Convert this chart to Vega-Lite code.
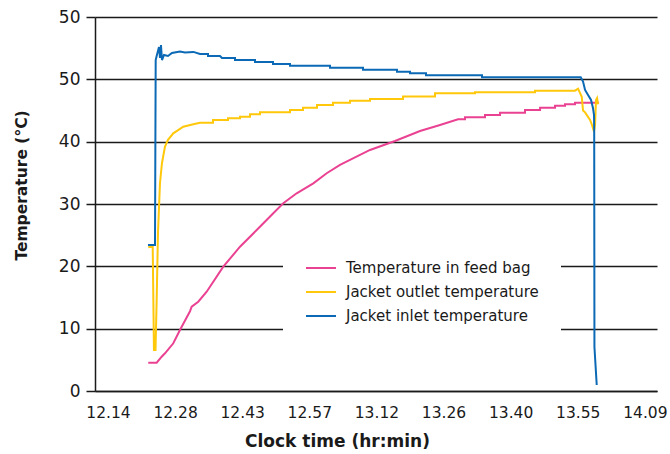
{
  "$schema": "https://vega.github.io/schema/vega-lite/v6.json",
  "width": 562,
  "height": 374,
  "autosize": "none",
  "padding": {"left": 95, "top": 17, "right": 13, "bottom": 63},
  "background": "white",
  "config": {
    "view": {"stroke": null},
    "font": "DejaVu Sans"
  },
  "data": {
    "values": [
      {"series":"Temperature in feed bag","minute":22.63,"temp":4.54},
      {"series":"Temperature in feed bag","minute":24.43,"temp":4.54},
      {"series":"Temperature in feed bag","minute":25.5,"temp":5.5},
      {"series":"Temperature in feed bag","minute":26.21,"temp":6.05},
      {"series":"Temperature in feed bag","minute":27.99,"temp":7.65},
      {"series":"Temperature in feed bag","minute":29.42,"temp":9.79},
      {"series":"Temperature in feed bag","minute":31.57,"temp":12.8},
      {"series":"Temperature in feed bag","minute":31.93,"temp":13.52},
      {"series":"Temperature in feed bag","minute":33.34,"temp":14.33},
      {"series":"Temperature in feed bag","minute":35.14,"temp":15.93},
      {"series":"Temperature in feed bag","minute":38.7,"temp":19.94},
      {"series":"Temperature in feed bag","minute":42.28,"temp":23.15},
      {"series":"Temperature in feed bag","minute":45.86,"temp":25.83},
      {"series":"Temperature in feed bag","minute":49.41,"temp":28.51},
      {"series":"Temperature in feed bag","minute":51.55,"temp":30.11},
      {"series":"Temperature in feed bag","minute":54.42,"temp":31.72},
      {"series":"Temperature in feed bag","minute":57.98,"temp":33.32},
      {"series":"Temperature in feed bag","minute":60.85,"temp":34.93},
      {"series":"Temperature in feed bag","minute":63.7,"temp":36.26},
      {"series":"Temperature in feed bag","minute":70.13,"temp":38.67},
      {"series":"Temperature in feed bag","minute":75.48,"temp":40.11},
      {"series":"Temperature in feed bag","minute":80.84,"temp":41.71},
      {"series":"Temperature in feed bag","minute":85.12,"temp":42.68},
      {"series":"Temperature in feed bag","minute":88.98,"temp":43.59},
      {"series":"Temperature in feed bag","minute":90.48,"temp":43.59},
      {"series":"Temperature in feed bag","minute":90.48,"temp":43.91},
      {"series":"Temperature in feed bag","minute":94.76,"temp":43.91},
      {"series":"Temperature in feed bag","minute":94.76,"temp":44.28},
      {"series":"Temperature in feed bag","minute":97.98,"temp":44.28},
      {"series":"Temperature in feed bag","minute":97.98,"temp":44.65},
      {"series":"Temperature in feed bag","minute":103.33,"temp":44.65},
      {"series":"Temperature in feed bag","minute":103.33,"temp":45.08},
      {"series":"Temperature in feed bag","minute":106.55,"temp":45.08},
      {"series":"Temperature in feed bag","minute":106.55,"temp":45.45},
      {"series":"Temperature in feed bag","minute":109.76,"temp":45.45},
      {"series":"Temperature in feed bag","minute":109.76,"temp":45.77},
      {"series":"Temperature in feed bag","minute":111.9,"temp":45.77},
      {"series":"Temperature in feed bag","minute":111.9,"temp":46.0},
      {"series":"Temperature in feed bag","minute":114.04,"temp":46.0},
      {"series":"Temperature in feed bag","minute":114.04,"temp":46.25},
      {"series":"Temperature in feed bag","minute":119.19,"temp":46.25},

      {"series":"Jacket outlet temperature","minute":22.63,"temp":23.05},
      {"series":"Jacket outlet temperature","minute":23.58,"temp":23.15},
      {"series":"Jacket outlet temperature","minute":23.85,"temp":6.58},
      {"series":"Jacket outlet temperature","minute":24.18,"temp":6.58},
      {"series":"Jacket outlet temperature","minute":24.43,"temp":14.6},
      {"series":"Jacket outlet temperature","minute":24.71,"temp":25.35},
      {"series":"Jacket outlet temperature","minute":25.14,"temp":33.37},
      {"series":"Jacket outlet temperature","minute":25.57,"temp":36.58},
      {"series":"Jacket outlet temperature","minute":26.21,"temp":39.2},
      {"series":"Jacket outlet temperature","minute":26.85,"temp":40.3},
      {"series":"Jacket outlet temperature","minute":27.99,"temp":41.34},
      {"series":"Jacket outlet temperature","minute":30.13,"temp":42.4},
      {"series":"Jacket outlet temperature","minute":32.27,"temp":42.79},
      {"series":"Jacket outlet temperature","minute":33.71,"temp":43.05},
      {"series":"Jacket outlet temperature","minute":36.49,"temp":43.05},
      {"series":"Jacket outlet temperature","minute":36.49,"temp":43.48},
      {"series":"Jacket outlet temperature","minute":39.71,"temp":43.48},
      {"series":"Jacket outlet temperature","minute":39.71,"temp":43.75},
      {"series":"Jacket outlet temperature","minute":42.28,"temp":43.75},
      {"series":"Jacket outlet temperature","minute":42.28,"temp":44.01},
      {"series":"Jacket outlet temperature","minute":44.42,"temp":44.01},
      {"series":"Jacket outlet temperature","minute":44.42,"temp":44.39},
      {"series":"Jacket outlet temperature","minute":46.56,"temp":44.39},
      {"series":"Jacket outlet temperature","minute":46.56,"temp":44.71},
      {"series":"Jacket outlet temperature","minute":52.99,"temp":44.71},
      {"series":"Jacket outlet temperature","minute":52.99,"temp":45.08},
      {"series":"Jacket outlet temperature","minute":55.77,"temp":45.08},
      {"series":"Jacket outlet temperature","minute":55.77,"temp":45.45},
      {"series":"Jacket outlet temperature","minute":58.77,"temp":45.45},
      {"series":"Jacket outlet temperature","minute":58.77,"temp":45.89},
      {"series":"Jacket outlet temperature","minute":62.2,"temp":45.89},
      {"series":"Jacket outlet temperature","minute":62.2,"temp":46.25},
      {"series":"Jacket outlet temperature","minute":65.84,"temp":46.25},
      {"series":"Jacket outlet temperature","minute":65.84,"temp":46.57},
      {"series":"Jacket outlet temperature","minute":70.13,"temp":46.57},
      {"series":"Jacket outlet temperature","minute":70.13,"temp":46.85},
      {"series":"Jacket outlet temperature","minute":77.2,"temp":46.85},
      {"series":"Jacket outlet temperature","minute":77.2,"temp":47.25},
      {"series":"Jacket outlet temperature","minute":84.05,"temp":47.25},
      {"series":"Jacket outlet temperature","minute":84.05,"temp":47.76},
      {"series":"Jacket outlet temperature","minute":92.62,"temp":47.76},
      {"series":"Jacket outlet temperature","minute":92.62,"temp":47.92},
      {"series":"Jacket outlet temperature","minute":105.47,"temp":47.92},
      {"series":"Jacket outlet temperature","minute":105.47,"temp":48.18},
      {"series":"Jacket outlet temperature","minute":114.04,"temp":48.18},
      {"series":"Jacket outlet temperature","minute":114.69,"temp":48.5},
      {"series":"Jacket outlet temperature","minute":115.48,"temp":47.2},
      {"series":"Jacket outlet temperature","minute":115.76,"temp":45.0},
      {"series":"Jacket outlet temperature","minute":116.19,"temp":44.7},
      {"series":"Jacket outlet temperature","minute":117.26,"temp":43.5},
      {"series":"Jacket outlet temperature","minute":117.68,"temp":42.68},
      {"series":"Jacket outlet temperature","minute":118.11,"temp":41.6},
      {"series":"Jacket outlet temperature","minute":118.33,"temp":42.7},
      {"series":"Jacket outlet temperature","minute":118.54,"temp":46.7},
      {"series":"Jacket outlet temperature","minute":118.76,"temp":47.0},
      {"series":"Jacket outlet temperature","minute":118.97,"temp":46.0},

      {"series":"Jacket inlet temperature","minute":22.57,"temp":23.42},
      {"series":"Jacket inlet temperature","minute":24.07,"temp":23.42},
      {"series":"Jacket inlet temperature","minute":24.22,"temp":53.1},
      {"series":"Jacket inlet temperature","minute":24.48,"temp":53.91},
      {"series":"Jacket inlet temperature","minute":24.93,"temp":55.19},
      {"series":"Jacket inlet temperature","minute":25.14,"temp":53.42},
      {"series":"Jacket inlet temperature","minute":25.35,"temp":55.51},
      {"series":"Jacket inlet temperature","minute":25.57,"temp":53.1},
      {"series":"Jacket inlet temperature","minute":26.0,"temp":53.91},
      {"series":"Jacket inlet temperature","minute":26.85,"temp":53.75},
      {"series":"Jacket inlet temperature","minute":27.71,"temp":54.23},
      {"series":"Jacket inlet temperature","minute":29.42,"temp":54.47},
      {"series":"Jacket inlet temperature","minute":30.5,"temp":54.31},
      {"series":"Jacket inlet temperature","minute":32.3,"temp":54.4},
      {"series":"Jacket inlet temperature","minute":33.71,"temp":54.07},
      {"series":"Jacket inlet temperature","minute":35.42,"temp":54.07},
      {"series":"Jacket inlet temperature","minute":35.42,"temp":53.75},
      {"series":"Jacket inlet temperature","minute":37.99,"temp":53.75},
      {"series":"Jacket inlet temperature","minute":38.42,"temp":53.42},
      {"series":"Jacket inlet temperature","minute":41.21,"temp":53.42},
      {"series":"Jacket inlet temperature","minute":41.21,"temp":53.1},
      {"series":"Jacket inlet temperature","minute":45.49,"temp":53.1},
      {"series":"Jacket inlet temperature","minute":45.49,"temp":52.78},
      {"series":"Jacket inlet temperature","minute":49.35,"temp":52.78},
      {"series":"Jacket inlet temperature","minute":49.35,"temp":52.46},
      {"series":"Jacket inlet temperature","minute":52.99,"temp":52.46},
      {"series":"Jacket inlet temperature","minute":52.99,"temp":52.19},
      {"series":"Jacket inlet temperature","minute":61.56,"temp":52.19},
      {"series":"Jacket inlet temperature","minute":61.56,"temp":51.87},
      {"series":"Jacket inlet temperature","minute":68.63,"temp":51.87},
      {"series":"Jacket inlet temperature","minute":68.63,"temp":51.55},
      {"series":"Jacket inlet temperature","minute":75.91,"temp":51.55},
      {"series":"Jacket inlet temperature","minute":75.91,"temp":51.23},
      {"series":"Jacket inlet temperature","minute":78.7,"temp":51.23},
      {"series":"Jacket inlet temperature","minute":78.7,"temp":50.97},
      {"series":"Jacket inlet temperature","minute":82.12,"temp":50.97},
      {"series":"Jacket inlet temperature","minute":82.12,"temp":50.65},
      {"series":"Jacket inlet temperature","minute":94.12,"temp":50.65},
      {"series":"Jacket inlet temperature","minute":94.12,"temp":50.33},
      {"series":"Jacket inlet temperature","minute":115.26,"temp":50.33},
      {"series":"Jacket inlet temperature","minute":115.76,"temp":49.65},
      {"series":"Jacket inlet temperature","minute":116.19,"temp":48.29},
      {"series":"Jacket inlet temperature","minute":116.83,"temp":47.49},
      {"series":"Jacket inlet temperature","minute":117.47,"temp":46.7},
      {"series":"Jacket inlet temperature","minute":117.9,"temp":45.36},
      {"series":"Jacket inlet temperature","minute":118.11,"temp":44.28},
      {"series":"Jacket inlet temperature","minute":118.15,"temp":41.4},
      {"series":"Jacket inlet temperature","minute":118.2,"temp":7.06},
      {"series":"Jacket inlet temperature","minute":118.69,"temp":0.96}
    ]
  },
  "mark": {"type": "line", "strokeWidth": 2, "clip": true},
  "encoding": {
    "x": {
      "field": "minute",
      "type": "quantitative",
      "scale": {"domain": [11.22, 131.6], "nice": false, "zero": false},
      "axis": {
        "values": [14, 28.375, 42.75, 57.125, 71.5, 85.875, 100.25, 114.625, 129],
        "labelExpr": "['12.14','12.28','12.43','12.57','13.12','13.26','13.40','13.55','14.09'][round((datum.value-14)/14.375)]",
        "grid": false,
        "ticks": false,
        "domainColor": "#1a1a1a",
        "domainWidth": 1.5,
        "labelFont": "DejaVu Sans",
        "labelFontSize": 15.5,
        "labelColor": "#1a1a1a",
        "labelPadding": 14,
        "labelFlush": false,
        "labelOverlap": false,
        "title": "Clock time (hr:min)",
        "titleFont": "DejaVu Sans",
        "titleFontSize": 17,
        "titleFontWeight": "bold",
        "titleColor": "#1a1a1a",
        "titleX": 242,
        "titleY": 50,
        "titleAlign": "center",
        "titleBaseline": "middle"
      }
    },
    "y": {
      "field": "temp",
      "type": "quantitative",
      "scale": {"domain": [0, 60], "nice": false},
      "axis": {
        "values": [0, 10, 20, 30, 40, 50, 60],
        "labelExpr": "datum.value == 60 ? '50' : datum.label",
        "grid": true,
        "gridColor": "#1a1a1a",
        "gridWidth": 1.5,
        "domainColor": "#1a1a1a",
        "domainWidth": 1.5,
        "tickColor": "#1a1a1a",
        "tickSize": 9,
        "tickWidth": 1.5,
        "labelFont": "DejaVu Sans",
        "labelFontSize": 17,
        "labelColor": "#1a1a1a",
        "labelPadding": 6,
        "title": "Temperature (°C)",
        "titleFont": "DejaVu Sans",
        "titleFontSize": 15.5,
        "titleFontWeight": "bold",
        "titleColor": "#1a1a1a",
        "titleX": -74,
        "titleY": 168,
        "titleAngle": -90,
        "titleAlign": "center",
        "titleBaseline": "middle"
      }
    },
    "color": {
      "field": "series",
      "type": "nominal",
      "sort": ["Temperature in feed bag", "Jacket outlet temperature", "Jacket inlet temperature"],
      "scale": {
        "domain": ["Temperature in feed bag", "Jacket outlet temperature", "Jacket inlet temperature"],
        "range": ["#EA4292", "#FFC80A", "#0B69B5"]
      },
      "legend": {
        "title": null,
        "orient": "none",
        "legendX": 188,
        "legendY": 213,
        "padding": 22,
        "fillColor": "white",
        "strokeColor": null,
        "symbolType": "stroke",
        "symbolSize": 900,
        "symbolStrokeWidth": 2,
        "labelFont": "DejaVu Sans",
        "labelFontSize": 15,
        "labelColor": "#1a1a1a",
        "labelOffset": 9,
        "rowPadding": -5,
        "labelLimit": 400
      }
    }
  }
}
